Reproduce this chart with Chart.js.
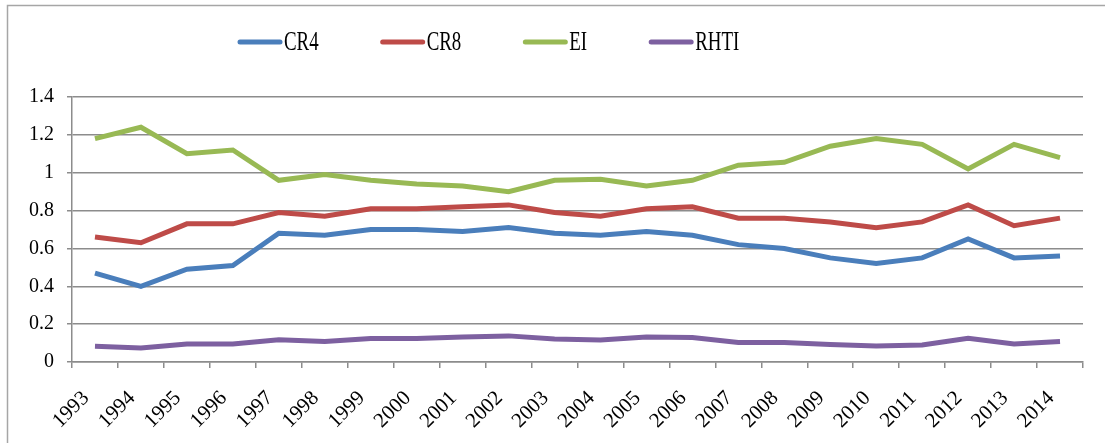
<!DOCTYPE html>
<html>
<head>
<meta charset="utf-8">
<script src="https://cdn.jsdelivr.net/npm/chart.js@4/dist/chart.umd.min.js"></script>
<style>
  html, body { margin: 0; padding: 0; background: #ffffff; }
  canvas { display: block; }
</style>
</head>
<body>
<canvas id="c" width="1105" height="443"></canvas>
<script>
// Years on the category axis
const years = ['1993','1994','1995','1996','1997','1998','1999','2000','2001','2002','2003',
               '2004','2005','2006','2007','2008','2009','2010','2011','2012','2013','2014'];

// Concentration indices by year
const cr4  = [0.47, 0.40, 0.49, 0.51, 0.68, 0.67, 0.70, 0.70, 0.69, 0.71, 0.68,
              0.67, 0.69, 0.67, 0.62, 0.60, 0.55, 0.52, 0.55, 0.65, 0.55, 0.56];
const cr8  = [0.66, 0.63, 0.73, 0.73, 0.79, 0.77, 0.81, 0.81, 0.82, 0.83, 0.79,
              0.77, 0.81, 0.82, 0.76, 0.76, 0.74, 0.71, 0.74, 0.83, 0.72, 0.76];
const ei   = [1.18, 1.24, 1.10, 1.12, 0.96, 0.99, 0.96, 0.94, 0.93, 0.90, 0.96,
              0.965, 0.93, 0.96, 1.04, 1.055, 1.14, 1.18, 1.15, 1.02, 1.15, 1.08];
const rhti = [0.083, 0.074, 0.095, 0.095, 0.118, 0.108, 0.124, 0.124, 0.132, 0.138, 0.122,
              0.116, 0.132, 0.129, 0.103, 0.103, 0.092, 0.085, 0.090, 0.125, 0.095, 0.108];

// Y axis tick values
const yTicks = [0, 0.2, 0.4, 0.6, 0.8, 1, 1.2, 1.4];

const seriesNames  = ['CR4', 'CR8', 'EI', 'RHTI'];
const seriesColors = ['#4a7ebb', '#be4b48', '#98b954', '#7d60a0'];
const seriesData   = [cr4, cr8, ei, rhti];

const SERIF = '"Liberation Serif", "DejaVu Serif", serif';
const GRID = '#8c8c8c';

// White page with a thin frame around the chart
const frame = {
  id: 'frame',
  beforeDraw(chart) {
    const ctx = chart.ctx;
    ctx.save();
    ctx.fillStyle = '#ffffff';
    ctx.fillRect(0, 0, chart.width, chart.height);
    ctx.strokeStyle = '#a6a6a6';
    ctx.lineWidth = 1.5;
    ctx.strokeRect(7.5, 5.5, chart.width + 10, chart.height + 10);
    ctx.restore();
  }
};

// Legend row: short thick line followed by a condensed serif label
const lineLegend = {
  id: 'lineLegend',
  afterDraw(chart) {
    const ctx = chart.ctx;
    const y = 42;
    const lineLen = 40;
    const squeeze = 0.7;
    let x = 240;
    ctx.save();
    ctx.font = '27px ' + SERIF;
    ctx.textBaseline = 'middle';
    chart.data.datasets.forEach(ds => {
      ctx.strokeStyle = ds.borderColor;
      ctx.lineWidth = 5;
      ctx.lineCap = 'round';
      ctx.beginPath();
      ctx.moveTo(x, y);
      ctx.lineTo(x + lineLen, y);
      ctx.stroke();
      const tx = x + lineLen + 4;
      const w = ctx.measureText(ds.label).width * squeeze;
      ctx.save();
      ctx.translate(tx, y + 1);
      ctx.scale(squeeze, 1);
      ctx.fillStyle = '#000000';
      ctx.fillText(ds.label, 0, 0);
      ctx.restore();
      x = tx + w + 64;
    });
    ctx.restore();
  }
};

new Chart(document.getElementById('c'), {
  type: 'line',
  data: {
    labels: years,
    datasets: seriesNames.map((name, i) => ({
      label: name,
      data: seriesData[i],
      borderColor: seriesColors[i],
      backgroundColor: seriesColors[i],
      borderWidth: 5,
      pointRadius: 0,
      tension: 0,
      fill: false
    }))
  },
  options: {
    responsive: false,
    animation: false,
    layout: { padding: { top: 97, right: 22, left: 0, bottom: 0 } },
    plugins: {
      legend: { display: false },
      tooltip: { enabled: false }
    },
    scales: {
      x: {
        type: 'category',
        offset: true,
        afterFit(scale) { scale.height = 81; },
        grid: {
          display: true,
          offset: true,
          drawOnChartArea: false,
          drawTicks: true,
          tickLength: 6,
          color: GRID,
          lineWidth: 1.5
        },
        border: { display: true, color: GRID, width: 1.5 },
        ticks: {
          autoSkip: false,
          maxRotation: 45,
          minRotation: 45,
          padding: 18,
          labelOffset: -9,
          color: '#000000',
          font: { family: SERIF, size: 21 }
        }
      },
      y: {
        min: 0,
        max: 1.4,
        afterFit(scale) { scale.width = 72; },
        afterBuildTicks(scale) { scale.ticks = yTicks.map(v => ({ value: v })); },
        grid: {
          color: GRID,
          lineWidth: 1.5,
          drawTicks: true,
          tickLength: 5
        },
        border: { display: true, color: GRID, width: 1.5 },
        ticks: {
          padding: 13,
          color: '#000000',
          font: { family: SERIF, size: 20 },
          callback: v => String(Math.round(v * 10) / 10)
        }
      }
    }
  },
  plugins: [frame, lineLegend]
});
</script>
</body>
</html>
